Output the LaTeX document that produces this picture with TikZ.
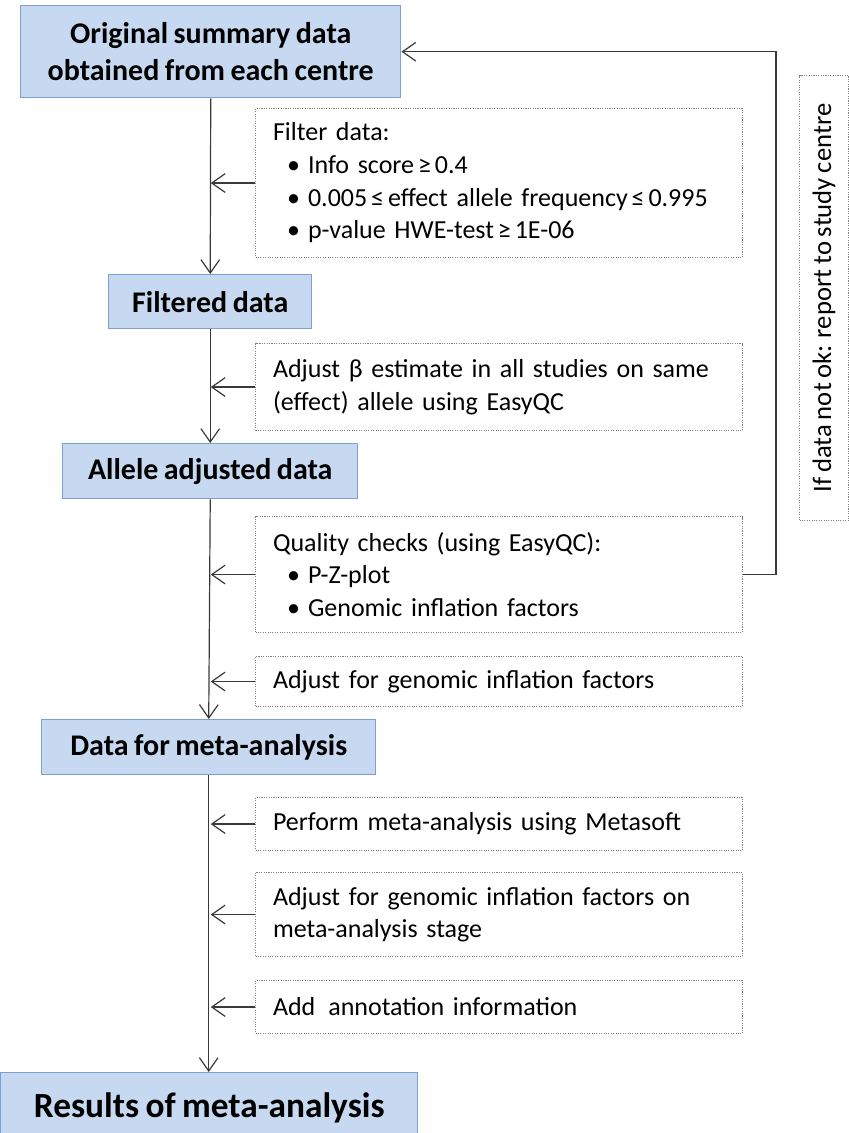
\documentclass[tikz,border=0pt]{standalone}
\usepackage{fontspec}
\setmainfont{Carlito}[WordSpace=0.8]
\usetikzlibrary{arrows.meta}
\definecolor{boxfill}{HTML}{C6D9F1}
\definecolor{boxline}{HTML}{7E9FCF}
\definecolor{lineclr}{HTML}{3A3A3A}
\definecolor{dotclr}{HTML}{808080}
\newcommand\bitem{\par\hspace*{10.5pt}\makebox[15.75pt][l]{•}}
\newcommand\hs{\hspace{0.15em}}
\begin{document}
\begin{tikzpicture}[x=0.75pt,y=-0.75pt,
  bluebox/.style={draw=boxline,line width=1.1pt,fill=boxfill,anchor=north west,
    inner sep=0pt,align=center,font=\fontsize{22.5}{27.5}\selectfont\bfseries},
  dotbox/.style={draw=dotclr,densely dotted,line width=0.8pt,anchor=north west,
    inner sep=0pt,minimum width={487*0.75pt},text width={452*0.75pt},align=left,
    font=\fontsize{19.5}{24.5}\selectfont},
  arr/.style={draw=lineclr,line width=0.9pt,-{Straight Barb[length=10pt,width=14pt,line width=0.9pt]}}]
\clip (0,0) rectangle (849,1133);
\fill[white] (0,0) rectangle (849,1133);

\node[bluebox,minimum width={380*0.75pt},minimum height={92*0.75pt}] (b1) at (20,5)
  {Original summary data\\obtained from each centre};
\node[dotbox,minimum height={149*0.75pt}] (filt) at (255,108)
  {Filter data:\bitem Info score\hs≥\hs0.4\bitem \mbox{0.005\hs≤\hs effect allele frequency\hs≤\hs0.995}\bitem p-value HWE-test\hs≥\hs1E-06};
\node[bluebox,minimum width={203*0.75pt},minimum height={54*0.75pt}] (fd) at (108,274)
  {Filtered data};
\node[dotbox,minimum height={87*0.75pt}] (beta) at (255,343)
  {Adjust β estimate in all studies on same\\(effect) allele using EasyQC};
\node[bluebox,minimum width={295*0.75pt},minimum height={55*0.75pt}] (al) at (62,443)
  {Allele adjusted data};
\node[dotbox,minimum height={116*0.75pt}] (qc) at (255,516)
  {Quality checks (using EasyQC):\bitem P-Z-plot\bitem Genomic inflation factors};
\node[dotbox,minimum height={50*0.75pt}] (adj) at (255,656)
  {Adjust for genomic inflation factors};
\node[bluebox,minimum width={334*0.75pt},minimum height={55*0.75pt}] (dm) at (41,719)
  {Data for meta-analysis};
\node[dotbox,minimum height={53*0.75pt}] (perf) at (255,797)
  {Perform meta-analysis using Metasoft};
\node[dotbox,minimum height={84*0.75pt}] (adjm) at (255,872)
  {Adjust for genomic inflation factors on\\meta-analysis stage};
\node[dotbox,minimum height={53*0.75pt}] (ann) at (255,980)
  {Add\, annotation information};
\node[bluebox,minimum width={417*0.75pt},minimum height={72*0.75pt},
  font=\fontsize{26.5}{30}\selectfont\bfseries] (res) at (0,1072)
  {\raisebox{6pt}{Results of meta-analysis}};
\node[draw=dotclr,densely dotted,line width=0.8pt,anchor=north west,inner sep=0pt,
  minimum width={49*0.75pt},minimum height={445*0.75pt}] (side) at (799,75) {};
\node[rotate=90,font=\fontsize{20}{24}\selectfont] (sidetxt) at (side.center)
  {If data not ok: report to study centre};

% main flow
\draw[arr] (b1.south) -- (fd.north);
\draw[arr] (fd.south) -- (al.north);
\draw[arr] (al.south) -- (dm.north);
\draw[arr] (dm.south) -- (res.north -| dm.south);

% side arrows
\draw[arr] (filt.west) -- (filt.west -| b1.south);
\draw[arr] (beta.west) -- (beta.west -| b1.south);
\draw[arr] (qc.west) -- (qc.west -| b1.south);
\draw[arr] (adj.west) -- (adj.west -| b1.south);
\draw[arr] (perf.west) -- (perf.west -| b1.south);
\draw[arr] (adjm.west) -- (adjm.west -| b1.south);
\draw[arr] (ann.west) -- (ann.west -| b1.south);

% feedback
\coordinate (fb) at (776,0);
\draw[arr,line width=1.1pt] (qc.east) -- (qc.east -| fb) |- (b1.east);
\end{tikzpicture}
\end{document}
